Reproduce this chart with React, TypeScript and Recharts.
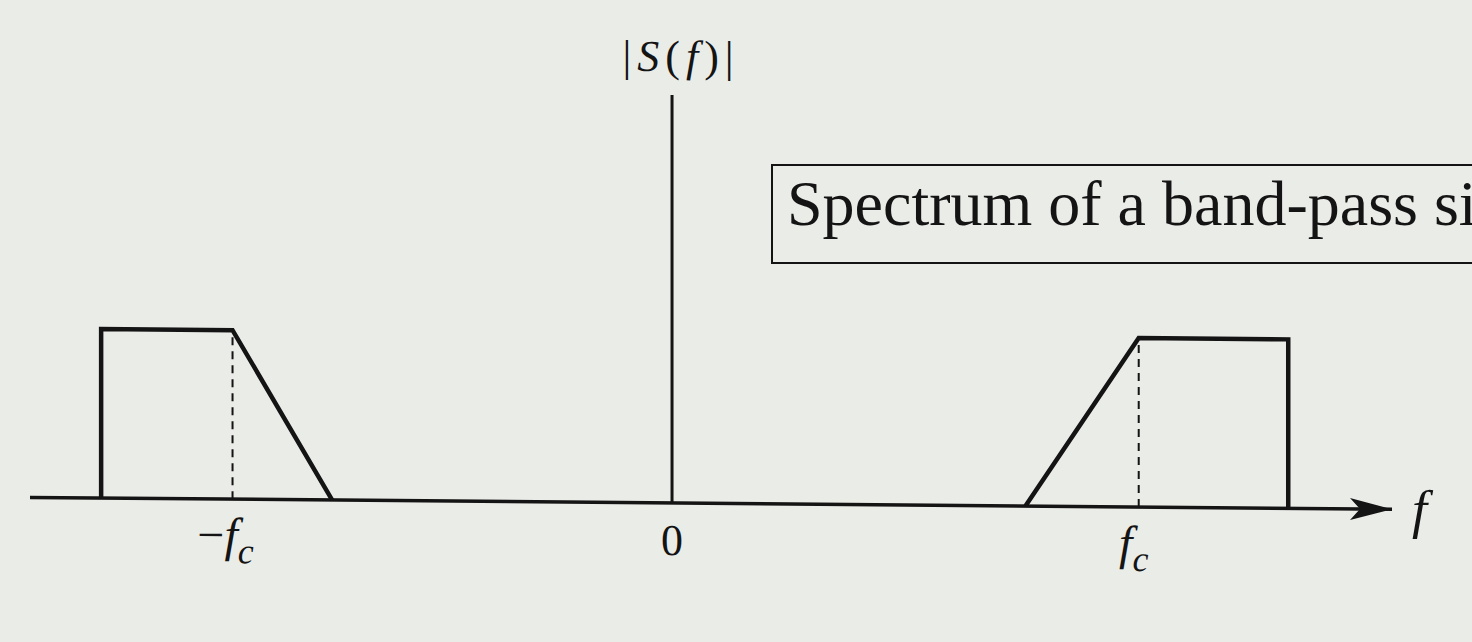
import { ComposedChart, Line, Scatter, XAxis, YAxis, ReferenceLine } from 'recharts';

// frequency axis in units of the carrier (fc ~ 1), magnitude normalised to the band height
const freqMin = -1.417;
const freqMax = 1.589;
const magMax = 2.976;
const magAxisTop = 2.414;

const negBand = [
  { f: -1.26, mag: 0 },
  { f: -1.26, mag: 1 },
  { f: -0.97, mag: 1 },
  { f: -0.75, mag: 0 },
];
const posBand = [
  { f: 0.78, mag: 0 },
  { f: 1.03, mag: 1 },
  { f: 1.36, mag: 1 },
  { f: 1.36, mag: 0 },
];
const negCarrier = [
  { f: -0.97, mag: 0 },
  { f: -0.97, mag: 1 },
];
const posCarrier = [
  { f: 1.03, mag: 0 },
  { f: 1.03, mag: 1 },
];
const arrowTip = [{ f: freqMax, mag: 0 }];

const tickValues = [-0.97, 0, 1.03];
const tickLabels = ['-f_c', '0', 'f_c'];

const INK = '#141414';
const SERIF = "'Liberation Serif', 'DejaVu Serif', serif";
const serifStyle = { fontFamily: SERIF };

function FreqTick(props: any) {
  const { x, y, payload } = props;
  const label = tickLabels[tickValues.indexOf(payload.value)];
  const base = y + 52;
  if (label === '0') {
    return (
      <text x={x} y={base} textAnchor="middle" fontSize={44} style={serifStyle} fill={INK}>
        0
      </text>
    );
  }
  const neg = label.startsWith('-');
  return (
    <text x={x + (neg ? -7 : -5)} y={base} textAnchor="middle" fontSize={48} style={serifStyle} fill={INK}>
      {neg && <tspan>−</tspan>}
      <tspan fontStyle="italic">f</tspan>
      <tspan fontStyle="italic" fontSize={36} dy={12}>
        c
      </tspan>
    </text>
  );
}

function ArrowHead(props: any) {
  const { cx, cy } = props;
  return (
    <g>
      <path
        d={`M ${cx} ${cy} L ${cx - 42} ${cy - 11} L ${cx - 32} ${cy} L ${cx - 42} ${cy + 11} Z`}
        fill={INK}
      />
      <text x={cx + 20} y={cy + 18} fontSize={54} fontStyle="italic" style={serifStyle} fill={INK}>
        f
      </text>
    </g>
  );
}

function MagTitle(props: any) {
  const { viewBox } = props;
  const x = viewBox.x + 9;
  const y = viewBox.y - 24;
  return (
    <text x={x} y={y} textAnchor="middle" fontSize={44} style={serifStyle} fill={INK} letterSpacing={6}>
      <tspan>|</tspan>
      <tspan fontStyle="italic">S</tspan>
      <tspan>(</tspan>
      <tspan fontStyle="italic">f</tspan>
      <tspan>)|</tspan>
    </text>
  );
}

export default function App() {
  return (
    <div
      style={{
        position: 'absolute',
        left: 0,
        top: 0,
        width: 1472,
        height: 642,
        overflow: 'hidden',
        background: '#eaece8',
      }}
    >
      <div
        style={{
          position: 'absolute',
          left: 0,
          top: 0,
          transform: 'skewY(0.5deg)',
          transformOrigin: '672px 503px',
        }}
      >
        <ComposedChart
          width={1472}
          height={642}
          margin={{ top: 0, right: 80, bottom: 79, left: 30 }}
          style={serifStyle}
        >
          <XAxis
            type="number"
            dataKey="f"
            domain={[freqMin, freqMax]}
            ticks={tickValues}
            interval={0}
            tickLine={false}
            tickSize={0}
            tickMargin={0}
            axisLine={{ stroke: INK, strokeWidth: 3.5 }}
            tick={<FreqTick />}
            height={60}
          />
          <YAxis type="number" dataKey="mag" domain={[0, magMax]} hide />
          <ReferenceLine
            segment={[
              { x: 0, y: 0 },
              { x: 0, y: magAxisTop },
            ]}
            stroke={INK}
            strokeWidth={3}
            label={<MagTitle />}
          />
          <Line
            data={negCarrier}
            dataKey="mag"
            stroke={INK}
            strokeWidth={2}
            strokeDasharray="8 6"
            dot={false}
            isAnimationActive={false}
          />
          <Line
            data={posCarrier}
            dataKey="mag"
            stroke={INK}
            strokeWidth={2}
            strokeDasharray="8 6"
            dot={false}
            isAnimationActive={false}
          />
          <Line
            data={negBand}
            dataKey="mag"
            stroke={INK}
            strokeWidth={4.5}
            strokeLinejoin="miter"
            dot={false}
            isAnimationActive={false}
          />
          <Line
            data={posBand}
            dataKey="mag"
            stroke={INK}
            strokeWidth={4.5}
            strokeLinejoin="miter"
            dot={false}
            isAnimationActive={false}
          />
          <Scatter data={arrowTip} dataKey="mag" shape={<ArrowHead />} isAnimationActive={false} />
        </ComposedChart>
      </div>
      <div
        style={{
          position: 'absolute',
          left: 771,
          top: 164,
          width: 900,
          height: 100,
          boxSizing: 'border-box',
          border: `2px solid ${INK}`,
          paddingLeft: 14,
          fontFamily: SERIF,
          fontSize: 64,
          lineHeight: '75px',
          color: INK,
          whiteSpace: 'nowrap',
        }}
      >
        Spectrum of a band-pass signal
      </div>
    </div>
  );
}
